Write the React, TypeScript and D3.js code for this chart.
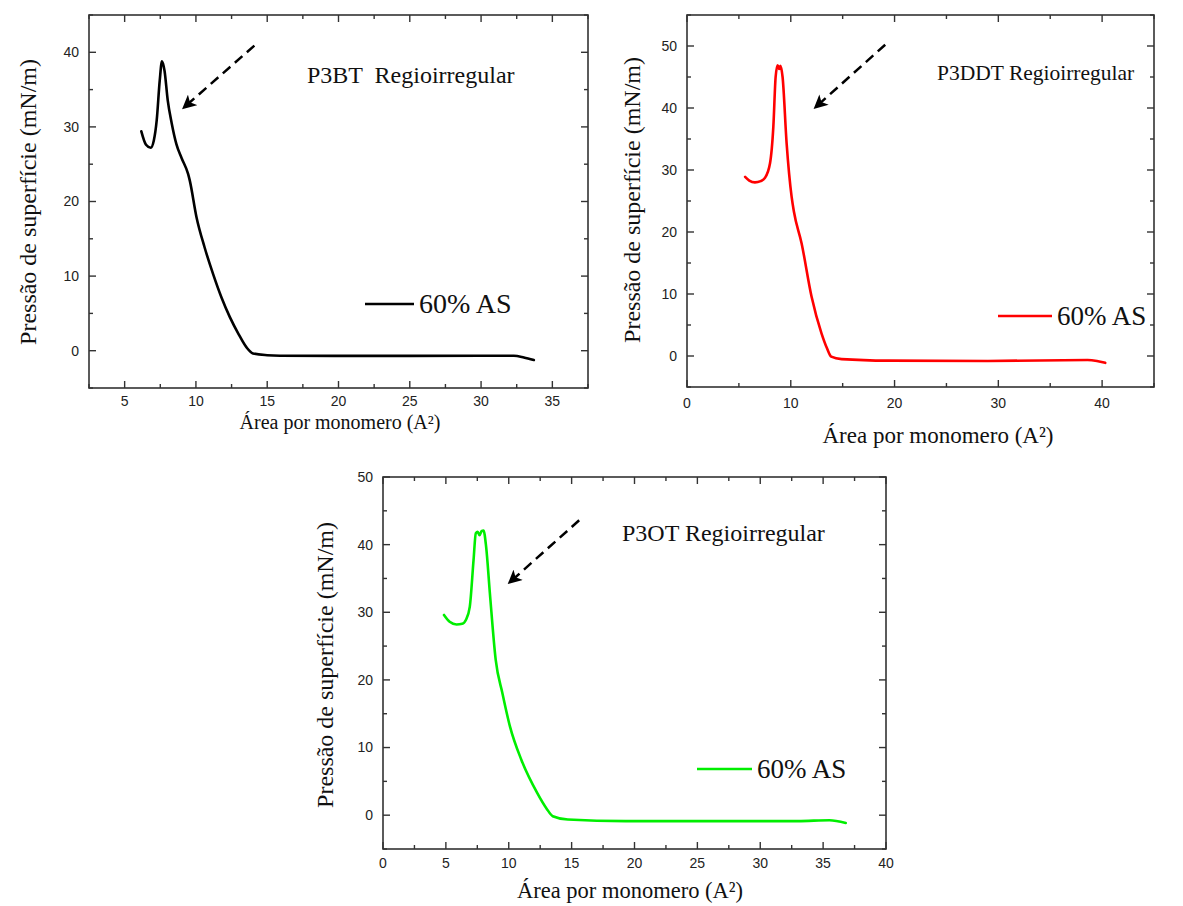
import React from 'react';
import * as d3 from 'd3';

// P3BT (black) : area per monomer vs surface pressure
const p3btArea = [6.17, 6.5, 6.83, 7.05, 7.25, 7.46, 7.62, 7.8, 8.02, 8.3, 8.63, 9.0, 9.45, 9.57, 10.04, 10.6, 11.2, 11.8, 12.38, 13.0, 13.55, 14.0, 15.0, 15.9, 20, 25, 30, 32.3, 33.0, 33.7];
const p3btPressure = [29.4, 27.6, 27.2, 28.2, 30.9, 36.2, 38.8, 37.5, 33.6, 30.5, 27.7, 25.8, 23.7, 22.8, 17.9, 13.9, 10.3, 7.1, 4.5, 2.2, 0.44, -0.36, -0.6, -0.67, -0.7, -0.7, -0.68, -0.67, -0.9, -1.25];

// P3DDT (red)
const p3ddtArea = [5.6, 6.0, 6.55, 7.1, 7.5, 8.0, 8.32, 8.54, 8.73, 8.89, 9.0, 9.21, 9.6, 10.08, 10.3, 11.04, 12.0, 12.96, 13.5, 13.9, 14.9, 19.4, 29, 38.6, 39.5, 40.3];
const p3ddtPressure = [28.9, 28.3, 28.0, 28.2, 28.7, 31.1, 37.0, 45.0, 46.9, 46.3, 46.8, 45.0, 34.3, 25.7, 23.3, 18.2, 9.6, 3.65, 1.2, -0.1, -0.5, -0.75, -0.8, -0.65, -0.8, -1.1];

// P3OT (green)
const p3otArea = [4.85, 5.3, 5.85, 6.3, 6.6, 6.9, 7.2, 7.38, 7.53, 7.68, 7.84, 7.99, 8.2, 8.5, 8.96, 9.5, 10.1, 11.0, 12.26, 13.0, 13.5, 14.7, 19.3, 33, 35.5, 36.8];
const p3otPressure = [29.6, 28.6, 28.2, 28.3, 28.9, 30.8, 37.7, 41.7, 41.9, 41.4, 42.0, 42.1, 39.7, 32.8, 23.0, 18.0, 13.1, 8.2, 3.3, 1.0, -0.15, -0.64, -0.88, -0.88, -0.74, -1.15];

const panels = [
  {
    name: 'P3BT  Regioirregular', color: '#000000',
    area: p3btArea, pressure: p3btPressure,
    box: { left: 89, top: 15, right: 588, bottom: 388 },
    xDomain: [2.5, 37.5], yDomain: [-5, 45],
    xMajor: [5, 10, 15, 20, 25, 30, 35], xMinorStep: 2.5,
    yMajor: [0, 10, 20, 30, 40], yMinorStep: 5,
    arrow: [[14.1, 40.9], [9.1, 32.5]],
    title: { x: 307, y: 83, size: 24 }, legend: { x: 365, y: 304, len: 49, size: 28 },
    tickSize: 14, xTickY: 406,
    xTitle: { x: 340, y: 429, size: 20 }, yTitle: { x: 28, y: 202, size: 24 },
  },
  {
    name: 'P3DDT Regioirregular', color: '#ff0000',
    area: p3ddtArea, pressure: p3ddtPressure,
    box: { left: 687, top: 15, right: 1154, bottom: 387 },
    xDomain: [0, 45], yDomain: [-5, 55],
    xMajor: [0, 10, 20, 30, 40], xMinorStep: 5,
    yMajor: [0, 10, 20, 30, 40, 50], yMinorStep: 5,
    arrow: [[19.1, 50.2], [12.3, 40]],
    title: { x: 937, y: 80, size: 21.5 }, legend: { x: 998, y: 316, len: 54, size: 27 },
    tickSize: 14, xTickY: 408,
    xTitle: { x: 938, y: 443, size: 23 }, yTitle: { x: 632, y: 200, size: 24 },
  },
  {
    name: 'P3OT Regioirregular', color: '#00ee00',
    area: p3otArea, pressure: p3otPressure,
    box: { left: 383, top: 477, right: 886, bottom: 849 },
    xDomain: [0, 40], yDomain: [-5, 50],
    xMajor: [0, 5, 10, 15, 20, 25, 30, 35, 40], xMinorStep: 2.5,
    yMajor: [0, 10, 20, 30, 40, 50], yMinorStep: 5,
    arrow: [[15.6, 43.6], [10.0, 34.3]],
    title: { x: 622, y: 541, size: 24 }, legend: { x: 697, y: 769, len: 55, size: 27 },
    tickSize: 14, xTickY: 868,
    xTitle: { x: 630, y: 898, size: 22.5 }, yTitle: { x: 325, y: 665, size: 24 },
  },
];

const serif = '"Liberation Serif", "Times New Roman", serif';
const sans = '"Liberation Sans", Arial, sans-serif';
const axisColor = '#333';

function Panel({ p, idx }: { p: any; idx: number }) {
  const { left, top, right, bottom } = p.box;
  const x = d3.scaleLinear().domain(p.xDomain).range([left, right]);
  const y = d3.scaleLinear().domain(p.yDomain).range([bottom, top]);
  const pts = p.area.map((a: number, i: number) => [a, p.pressure[i]]);
  const line = d3.line<number[]>().x((d) => x(d[0])).y((d) => y(d[1])).curve(d3.curveMonotoneX);

  const xMinor = d3.range(p.xDomain[0], p.xDomain[1] + 0.001, p.xMinorStep).filter((v: number) => !p.xMajor.includes(v));
  const yMinor = d3.range(p.yDomain[0], p.yDomain[1] + 0.001, p.yMinorStep).filter((v: number) => !p.yMajor.includes(v));
  const maj = 7, min = 4;
  const markerId = `arrowhead${idx}`;
  const [a0, a1] = p.arrow;

  return (
    <g>
      <defs>
        <marker id={markerId} viewBox="0 0 10 10" refX="9" refY="5" markerWidth="15" markerHeight="14" orient="auto" markerUnits="userSpaceOnUse">
          <path d="M0,0 L10,5 L0,10 L2.5,5 z" fill="#000" />
        </marker>
      </defs>
      <rect x={left} y={top} width={right - left} height={bottom - top} fill="none" stroke={axisColor} strokeWidth={1.6} />
      {p.xMajor.map((v: number) => (
        <g key={'xm' + v}>
          <line x1={x(v)} x2={x(v)} y1={bottom} y2={bottom - maj} stroke={axisColor} strokeWidth={1.4} />
          <line x1={x(v)} x2={x(v)} y1={top} y2={top + maj} stroke={axisColor} strokeWidth={1.4} />
          <text x={x(v)} y={p.xTickY} textAnchor="middle" fontFamily={sans} fontSize={p.tickSize} fill="#222">{v}</text>
        </g>
      ))}
      {xMinor.map((v: number) => (
        <g key={'xn' + v}>
          <line x1={x(v)} x2={x(v)} y1={bottom} y2={bottom - min} stroke={axisColor} strokeWidth={1.4} />
          <line x1={x(v)} x2={x(v)} y1={top} y2={top + min} stroke={axisColor} strokeWidth={1.4} />
        </g>
      ))}
      {p.yMajor.map((v: number) => (
        <g key={'ym' + v}>
          <line x1={left} x2={left + maj} y1={y(v)} y2={y(v)} stroke={axisColor} strokeWidth={1.4} />
          <line x1={right} x2={right - maj} y1={y(v)} y2={y(v)} stroke={axisColor} strokeWidth={1.4} />
          <text x={left - 10} y={y(v)} dy="0.35em" textAnchor="end" fontFamily={sans} fontSize={p.tickSize} fill="#222">{v}</text>
        </g>
      ))}
      {yMinor.map((v: number) => (
        <g key={'yn' + v}>
          <line x1={left} x2={left + min} y1={y(v)} y2={y(v)} stroke={axisColor} strokeWidth={1.4} />
          <line x1={right} x2={right - min} y1={y(v)} y2={y(v)} stroke={axisColor} strokeWidth={1.4} />
        </g>
      ))}
      <path d={line(pts) || ''} fill="none" stroke={p.color} strokeWidth={2.6} strokeLinejoin="round" strokeLinecap="round" />
      <line x1={x(a0[0])} y1={y(a0[1])} x2={x(a1[0])} y2={y(a1[1])} stroke="#000" strokeWidth={2.5} strokeDasharray="10,6" markerEnd={`url(#${markerId})`} />
      <text x={p.title.x} y={p.title.y} fontFamily={serif} fontSize={p.title.size} fill="#111" style={{ whiteSpace: 'pre' }}>{p.name}</text>
      <line x1={p.legend.x} x2={p.legend.x + p.legend.len} y1={p.legend.y} y2={p.legend.y} stroke={p.color} strokeWidth={2.6} />
      <text x={p.legend.x + p.legend.len + 5} y={p.legend.y + 9} fontFamily={serif} fontSize={p.legend.size} fill="#111">60% AS</text>
      <text x={p.xTitle.x} y={p.xTitle.y} textAnchor="middle" fontFamily={serif} fontSize={p.xTitle.size} fill="#111">Área por monomero (A²)</text>
      <text transform={`translate(${p.yTitle.x},${p.yTitle.y}) rotate(-90)`} dy="0.35em" textAnchor="middle" fontFamily={serif} fontSize={p.yTitle.size} fill="#111">Pressão de superfície (mN/m)</text>
    </g>
  );
}

export default function App() {
  return (
    <svg width={1183} height={906} style={{ position: 'absolute', left: 0, top: 0, background: '#fff' }}>
      {panels.map((p, i) => <Panel key={p.name} p={p} idx={i} />)}
    </svg>
  );
}
